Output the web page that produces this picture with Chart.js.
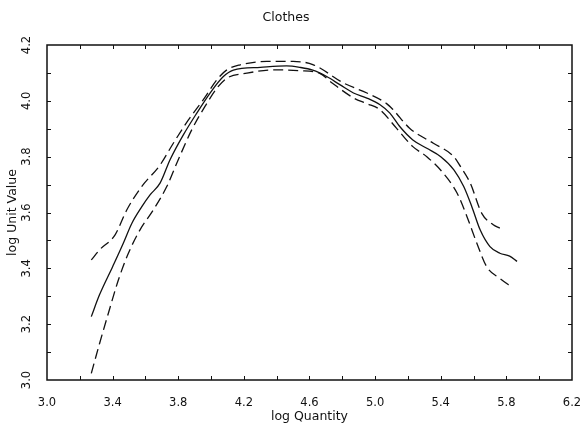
<!DOCTYPE html>
<html lang="en">
<head>
    <meta charset="UTF-8">
    <title>Clothes</title>
    <script src="https://cdn.jsdelivr.net/npm/chart.js"></script>
    <style>
        body {
            margin: 0;
            background: white;
        }
        #chart {
            display: block;
        }
    </style>
</head>
<body>
    <canvas id="chart" width="584" height="427"></canvas>

    <script>
        // values (log quantity, log unit value)
        const midX = [3.27, 3.32, 3.40, 3.465, 3.516, 3.577, 3.628, 3.689, 3.75, 3.831, 3.913, 3.994, 4.075, 4.136, 4.30, 4.46, 4.54, 4.62, 4.705, 4.787, 4.868, 4.95, 5.03, 5.09, 5.15, 5.23, 5.315, 5.40, 5.48, 5.54, 5.59, 5.64, 5.70, 5.76, 5.82, 5.865];
        const midY = [3.227, 3.305, 3.406, 3.49, 3.56, 3.62, 3.663, 3.705, 3.789, 3.878, 3.956, 4.028, 4.087, 4.11, 4.12, 4.125, 4.12, 4.11, 4.087, 4.057, 4.028, 4.01, 3.986, 3.956, 3.908, 3.86, 3.83, 3.80, 3.753, 3.693, 3.62, 3.538, 3.478, 3.454, 3.444, 3.425];

        const upX = [3.27, 3.32, 3.415, 3.486, 3.577, 3.689, 3.77, 3.862, 3.953, 4.035, 4.096, 4.177, 4.34, 4.50, 4.62, 4.81, 4.95, 5.07, 5.11, 5.21, 5.355, 5.48, 5.52, 5.58, 5.65, 5.72, 5.76];
        const upY = [3.43, 3.466, 3.52, 3.609, 3.693, 3.77, 3.848, 3.932, 4.004, 4.075, 4.111, 4.129, 4.141, 4.141, 4.13, 4.063, 4.028, 3.99, 3.968, 3.902, 3.848, 3.80, 3.765, 3.705, 3.597, 3.556, 3.544];

        const lowX = [3.27, 3.32, 3.374, 3.435, 3.496, 3.567, 3.648, 3.73, 3.80, 3.882, 3.963, 4.035, 4.096, 4.218, 4.38, 4.54, 4.66, 4.74, 4.87, 4.95, 5.03, 5.13, 5.23, 5.315, 5.415, 5.50, 5.56, 5.62, 5.68, 5.76, 5.83];
        const lowY = [3.024, 3.13, 3.239, 3.358, 3.454, 3.538, 3.609, 3.693, 3.789, 3.896, 3.98, 4.045, 4.081, 4.099, 4.111, 4.108, 4.099, 4.063, 4.01, 3.99, 3.968, 3.902, 3.836, 3.80, 3.741, 3.669, 3.585, 3.49, 3.406, 3.364, 3.334];

        const xMin = 3.0, xMax = 6.2, xStep = 0.4, xMinor = 0.2;
        const yMin = 3.0, yMax = 4.2, yStep = 0.2, yMinor = 0.1;

        const toPoints = (xs, ys) => xs.map((x, i) => ({ x: x, y: ys[i] }));

        function line(xs, ys, dashed) {
            return {
                data: toPoints(xs, ys),
                showLine: true,
                borderColor: '#111',
                borderWidth: 1.3,
                borderDash: dashed ? [10, 5] : [],
                pointRadius: 0,
                cubicInterpolationMode: 'monotone'
            };
        }

        // frame with inward tick marks, like the printed figure
        const framePlugin = {
            id: 'frame',
            afterDatasetsDraw(chart) {
                const { ctx, chartArea: a, scales } = chart;
                ctx.save();
                ctx.strokeStyle = '#111';
                ctx.lineWidth = 1.5;
                ctx.strokeRect(a.left, a.top, a.right - a.left, a.bottom - a.top);
                ctx.lineWidth = 1;
                ctx.beginPath();
                for (let i = 1; i < Math.round((xMax - xMin) / xMinor); i++) {
                    const px = Math.round(scales.x.getPixelForValue(xMin + i * xMinor)) + 0.5;
                    ctx.moveTo(px, a.bottom); ctx.lineTo(px, a.bottom - 4);
                    ctx.moveTo(px, a.top); ctx.lineTo(px, a.top + 4);
                }
                for (let i = 1; i < Math.round((yMax - yMin) / yMinor); i++) {
                    const py = Math.round(scales.y.getPixelForValue(yMin + i * yMinor)) + 0.5;
                    ctx.moveTo(a.left, py); ctx.lineTo(a.left + 4, py);
                    ctx.moveTo(a.right, py); ctx.lineTo(a.right - 4, py);
                }
                ctx.stroke();
                ctx.restore();
            }
        };

        function noPad(scale) {
            scale.paddingLeft = 0;
            scale.paddingRight = 0;
            scale.paddingTop = 0;
            scale.paddingBottom = 0;
        }

        const font = { family: 'DejaVu Sans', size: 11.5 };

        new Chart(document.getElementById('chart'), {
            type: 'scatter',
            data: {
                datasets: [
                    line(midX, midY, false),
                    line(upX, upY, true),
                    line(lowX, lowY, true)
                ]
            },
            options: {
                responsive: false,
                animation: false,
                layout: { padding: { left: 0, right: 12, top: 0, bottom: 0 } },
                plugins: {
                    legend: { display: false },
                    tooltip: { enabled: false },
                    title: {
                        display: true,
                        text: 'Clothes',
                        color: '#111',
                        font: { family: 'DejaVu Sans', size: 12.5, weight: 'normal' },
                        padding: { top: 10, bottom: 20 }
                    }
                },
                scales: {
                    x: {
                        type: 'linear',
                        min: xMin,
                        max: xMax,
                        grid: { display: false },
                        border: { display: false },
                        ticks: {
                            stepSize: xStep,
                            color: '#111',
                            font: font,
                            padding: 8,
                            maxRotation: 0,
                            callback: v => v.toFixed(1)
                        },
                        title: {
                            display: true,
                            text: 'log Quantity',
                            color: '#111',
                            font: { family: 'DejaVu Sans', size: 12.5 },
                            padding: { top: 0, bottom: 3 }
                        },
                        afterFit(scale) { scale.height = 47; noPad(scale); }
                    },
                    y: {
                        min: yMin,
                        max: yMax,
                        grid: { display: false },
                        border: { display: false },
                        ticks: {
                            stepSize: yStep,
                            color: '#111',
                            font: font,
                            padding: 3,
                            minRotation: 90,
                            maxRotation: 90,
                            crossAlign: 'center',
                            callback: v => v.toFixed(1)
                        },
                        title: {
                            display: true,
                            text: 'log Unit Value',
                            color: '#111',
                            font: { family: 'DejaVu Sans', size: 12.5 },
                            padding: { top: 5, bottom: 0 }
                        },
                        afterFit(scale) { scale.width = 47; noPad(scale); }
                    }
                }
            },
            plugins: [framePlugin]
        });
    </script>
</body>
</html>
